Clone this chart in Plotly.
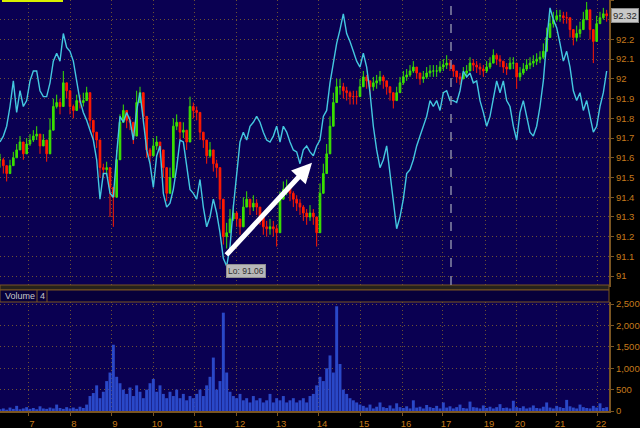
import plotly.graph_objects as go

# ---------------- data ----------------
close = [
    91.59, 91.56, 91.52, 91.56, 91.60, 91.64, 91.68, 91.62, 91.67, 91.69,
    91.71, 91.72, 91.66, 91.69, 91.62, 91.74, 91.86, 91.88, 91.86, 91.98,
    91.94, 91.86, 91.84, 91.89, 91.88, 91.89, 91.93, 91.79, 91.73, 91.69,
    91.55, 91.54, 91.55, 91.45, 91.40, 91.59, 91.78, 91.84, 91.79, 91.78,
    91.71, 91.88, 91.93, 91.81, 91.64, 91.61, 91.66, 91.68,
    91.64, 91.55, 91.42, 91.50, 91.76, 91.78, 91.73, 91.74, 91.68, 91.86,
    91.84, 91.83, 91.73, 91.69, 91.61, 91.64, 91.57, 91.55, 91.39, 91.20,
    91.22, 91.29, 91.32, 91.29, 91.25, 91.35, 91.39, 91.35, 91.37, 91.35,
    91.30, 91.25, 91.24, 91.25, 91.24, 91.22, 91.39, 91.44, 91.45, 91.42,
    91.39, 91.37,
    91.35, 91.32, 91.30, 91.32, 91.30, 91.22, 91.42, 91.52, 91.62, 91.76,
    91.88, 91.96, 91.96, 91.94, 91.93, 91.91, 91.91, 91.91, 91.96, 92.01,
    91.99, 91.96, 91.98, 91.99, 92.01, 91.99, 91.96, 91.93, 91.89, 91.93,
    91.98, 92.01, 92.02, 92.04, 92.06, 92.03, 92.00, 92.01, 92.03, 92.04,
    92.04, 92.04, 92.06, 92.07, 92.08,
    92.07, 92.04, 92.01, 92.00, 92.03, 92.04, 92.08, 92.07, 92.06, 92.05,
    92.04, 92.06, 92.08, 92.12, 92.10, 92.09, 92.06, 92.05, 92.08, 92.08,
    92.01, 92.03, 92.05, 92.07, 92.08, 92.09, 92.10, 92.11, 92.14, 92.21,
    92.28, 92.30, 92.32, 92.32, 92.31, 92.31, 92.25, 92.21, 92.23, 92.25,
    92.30, 92.35, 92.25, 92.19, 92.28, 92.31, 92.33, 92.32,
]
high = [
    91.62, 91.60, 91.56, 91.59, 91.63, 91.67, 91.71, 91.66, 91.70, 91.72,
    91.74, 91.76, 91.70, 91.72, 91.66, 91.80, 91.90, 91.92, 91.90, 92.04,
    91.98, 91.90, 91.87, 91.92, 91.92, 91.93, 91.96, 91.83, 91.76, 91.72,
    91.59, 91.57, 91.58, 91.49, 91.44, 91.64, 91.82, 91.87, 91.83, 91.81,
    91.75, 91.94, 91.96, 91.85, 91.67, 91.65, 91.70, 91.71,
    91.68, 91.59, 91.46, 91.55, 91.80, 91.82, 91.77, 91.78, 91.72, 91.91,
    91.88, 91.86, 91.77, 91.73, 91.65, 91.68, 91.61, 91.59, 91.44, 91.25,
    91.27, 91.34, 91.36, 91.33, 91.29, 91.40, 91.43, 91.39, 91.41, 91.39,
    91.34, 91.29, 91.28, 91.29, 91.28, 91.26, 91.43, 91.48, 91.49, 91.46,
    91.43, 91.41,
    91.39, 91.36, 91.34, 91.36, 91.34, 91.27, 91.47, 91.57, 91.67, 91.81,
    91.93, 92.00, 92.00, 91.98, 91.96, 91.94, 91.94, 91.94, 92.00, 92.04,
    92.02, 91.99, 92.01, 92.02, 92.04, 92.02, 91.99, 91.96, 91.92, 91.96,
    92.01, 92.04, 92.05, 92.07, 92.09, 92.06, 92.03, 92.04, 92.06, 92.07,
    92.07, 92.07, 92.09, 92.10, 92.12,
    92.10, 92.07, 92.04, 92.03, 92.06, 92.07, 92.11, 92.10, 92.09, 92.08,
    92.07, 92.09, 92.11, 92.15, 92.13, 92.12, 92.09, 92.08, 92.11, 92.11,
    92.04, 92.06, 92.08, 92.10, 92.11, 92.12, 92.13, 92.14, 92.18, 92.26,
    92.32, 92.34, 92.35, 92.35, 92.34, 92.34, 92.29, 92.25, 92.27, 92.29,
    92.34, 92.39, 92.30, 92.24, 92.32, 92.34, 92.36, 92.35,
]
low = [
    91.55, 91.52, 91.48, 91.53, 91.57, 91.60, 91.64, 91.59, 91.63, 91.66,
    91.68, 91.69, 91.62, 91.66, 91.58, 91.70, 91.82, 91.85, 91.82, 91.94,
    91.90, 91.82, 91.80, 91.85, 91.85, 91.86, 91.89, 91.75, 91.69, 91.65,
    91.50, 91.50, 91.51, 91.30, 91.25, 91.55, 91.74, 91.80, 91.75, 91.74,
    91.67, 91.84, 91.89, 91.77, 91.60, 91.57, 91.62, 91.64,
    91.60, 91.50, 91.38, 91.46, 91.72, 91.74, 91.69, 91.70, 91.64, 91.82,
    91.80, 91.79, 91.69, 91.65, 91.57, 91.60, 91.53, 91.50, 91.34, 91.16,
    91.14, 91.24, 91.28, 91.25, 91.21, 91.31, 91.35, 91.31, 91.33, 91.31,
    91.26, 91.21, 91.20, 91.21, 91.20, 91.15, 91.35, 91.40, 91.41, 91.38,
    91.35, 91.33,
    91.31, 91.28, 91.26, 91.28, 91.26, 91.15, 91.37, 91.47, 91.57, 91.71,
    91.83, 91.92, 91.92, 91.90, 91.89, 91.87, 91.87, 91.87, 91.92, 91.97,
    91.95, 91.92, 91.94, 91.95, 91.97, 91.95, 91.92, 91.89, 91.85, 91.89,
    91.94, 91.97, 91.99, 92.01, 92.03, 92.00, 91.97, 91.98, 92.00, 92.01,
    92.01, 92.01, 92.03, 92.04, 92.05,
    92.04, 92.01, 91.98, 91.97, 92.00, 92.01, 92.05, 92.04, 92.03, 92.02,
    92.01, 92.03, 92.05, 92.09, 92.07, 92.06, 92.03, 92.02, 92.05, 92.05,
    91.95, 91.99, 92.02, 92.04, 92.05, 92.06, 92.07, 92.08, 92.10, 92.16,
    92.24, 92.26, 92.29, 92.29, 92.28, 92.28, 92.21, 92.17, 92.19, 92.21,
    92.26, 92.30, 92.20, 92.08, 92.24, 92.28, 92.30, 92.29,
]
overlay = [
    91.68, 91.71, 91.76, 91.86, 91.99, 91.83, 91.94, 91.86, 91.89, 91.99,
    92.04, 92.04, 91.94, 91.91, 91.91, 91.98, 92.09, 92.13, 92.09, 92.23,
    92.16, 92.14, 92.09, 91.99, 91.89, 91.83, 91.79, 91.74, 91.69, 91.59,
    91.39, 91.52, 91.52, 91.42, 91.40, 91.62, 91.81, 91.78, 91.83, 91.79,
    91.69, 91.84, 91.93, 91.79, 91.64, 91.57, 91.45, 91.61,
    91.66, 91.42, 91.35, 91.37, 91.44, 91.55, 91.69, 91.68, 91.55, 91.44,
    91.42, 91.39, 91.49, 91.35, 91.25, 91.30, 91.39, 91.32, 91.22, 91.09,
    91.05, 91.15, 91.35, 91.52, 91.68, 91.73, 91.69, 91.76, 91.78, 91.81,
    91.78, 91.73, 91.69, 91.68, 91.71, 91.76, 91.68, 91.76, 91.73, 91.68,
    91.64, 91.63,
    91.57, 91.64, 91.66, 91.63, 91.61, 91.66, 91.69, 91.81, 91.84, 91.98,
    92.09, 92.18, 92.25, 92.33, 92.23, 92.19, 92.14, 92.09, 92.06, 92.13,
    92.06, 91.93, 91.76, 91.64, 91.55, 91.59, 91.66, 91.52, 91.39, 91.24,
    91.30, 91.39, 91.52, 91.54, 91.59, 91.66, 91.71, 91.76, 91.81, 91.89,
    91.86, 91.89, 91.84, 91.93, 91.94,
    91.89, 91.89, 91.88, 91.94, 92.04, 92.01, 92.03, 91.98, 91.99, 91.89,
    91.83, 91.76, 91.81, 91.91, 91.99, 91.93, 91.99, 91.89, 91.86, 91.76,
    91.69, 91.83, 91.89, 91.81, 91.73, 91.71, 91.76, 91.86, 91.99, 92.19,
    92.36, 92.30, 92.26, 92.18, 92.09, 92.14, 92.06, 91.94, 91.89, 91.93,
    91.84, 91.89, 91.81, 91.73, 91.76, 91.86, 91.93, 92.04,
]
volume = [
    40, 60, 30, 80, 50, 120, 40, 60, 90, 50, 70, 40, 110, 60, 50, 80, 60, 150,
    70, 50, 90, 60, 80, 50, 100, 70,
    150, 350, 420, 600, 300, 450, 700, 900, 1550, 800,
    650, 500, 400, 550, 350, 600, 450, 300, 500, 650,
    750, 450, 600, 400, 300, 450, 350, 500, 300, 400,
    250, 350, 300, 400, 500, 350, 600, 800, 1250, 500,
    700, 2300, 900, 450, 350, 300, 400, 250, 300, 200,
    350, 250, 300, 200, 250, 400, 200, 300, 250, 350,
    200, 250, 300, 200, 250, 300, 200, 350, 400, 600,
    800, 700, 1000, 1300, 900, 2450, 1100, 500, 400, 300,
    250, 200, 150,
    120, 80, 150, 60, 100, 200, 90, 70, 130, 60,
    180, 90, 70, 110, 60, 250, 80, 100, 60, 140,
    90, 70, 120, 60, 200, 80, 110, 60, 90, 150,
    70, 60, 220, 90, 80, 60, 130, 70, 100, 60,
    90, 160, 70, 80, 60, 240, 90, 70, 110, 60,
    80, 130, 70, 60, 100, 200, 80, 60, 120, 90,
    70, 260, 110, 80, 60, 150, 90, 70, 60, 120,
    80, 180, 70, 90,
]
hour_labels = ["7", "8", "9", "10", "11", "12", "13", "14", "15", "16",
               "17", "19", "20", "21", "22"]
hour_pos = [8.4, 21.0, 33.3, 45.9, 58.2, 70.8, 83.1, 95.4, 108.0, 120.6,
            132.6, 145.5, 154.8, 166.8, 179.1]
price_ticks = [91.0, 91.1, 91.2, 91.3, 91.4, 91.5, 91.6, 91.7, 91.8, 91.9,
               92.0, 92.1, 92.2, 92.3, 92.4]
price_labels = ["91", "91.1", "91.2", "91.3", "91.4", "91.5", "91.6", "91.7",
                "91.8", "91.9", "92", "92.1", "92.2", "92.3", "92.4"]
vol_ticks = [0, 500, 1000, 1500, 2000, 2500]
vol_labels = ["0", "500", "1,000", "1,500", "2,000", "2,500"]
last_price = 92.32
session_low = 91.06
session_break = 135.3      # bar index of the dashed session marker
arrow_from = (67.5, 91.10)  # annotation arrow (bar index, price)
arrow_to = (93.6, 91.575)

n = len(close)
assert len(high) == n and len(low) == n and len(overlay) == n and len(volume) == n, \
    (len(close), len(high), len(low), len(overlay), len(volume))
x = list(range(n))
opens = [close[0]] + close[:-1]

# ---------------- styling ----------------
BG = "#0a0052"
GRID = "#6e5234"
AXIS = "#7a5522"
TICK = "#c47a1c"
FONT = "Liberation Sans"
XD = [0, 609 / 640]

def py(px):
    return 1 - px / 428

fig = go.Figure()
fig.add_trace(go.Candlestick(
    x=x, open=opens, high=high, low=low, close=close,
    increasing=dict(line=dict(color="#3ae000", width=1), fillcolor="#3ae000"),
    decreasing=dict(line=dict(color="#ff1a00", width=1), fillcolor="#ff1a00"),
    whiskerwidth=0, xaxis="x", yaxis="y", hoverinfo="skip"))
fig.add_trace(go.Scatter(
    x=x, y=overlay, mode="lines", line=dict(color="#44c8e0", width=1.4),
    xaxis="x", yaxis="y", hoverinfo="skip"))
fig.add_trace(go.Bar(
    x=x, y=volume, marker=dict(color="#2a48c8", line=dict(width=0)),
    xaxis="x2", yaxis="y2", hoverinfo="skip"))

common_x = dict(range=[0, 182.7], tickvals=hour_pos, showgrid=True,
                gridcolor=GRID, griddash="1px,3px", gridwidth=1, zeroline=False,
                ticks="outside", ticklen=3, tickcolor=AXIS, automargin=False,
                showline=True, linecolor=AXIS, linewidth=1.5)
common_y = dict(side="right", showgrid=True, gridcolor=GRID, griddash="1px,3px",
                gridwidth=1, zeroline=False, ticks="outside", ticklen=3,
                tickcolor=AXIS, showline=True, linecolor=AXIS, linewidth=2,
                mirror=True, automargin=False,
                tickfont=dict(family=FONT, size=9.5, color=TICK))

fig.update_layout(
    width=640, height=428, margin=dict(l=0, r=0, t=0, b=0, autoexpand=False),
    paper_bgcolor="black", plot_bgcolor=BG, showlegend=False,
    hovermode=False, bargap=0.12,
    xaxis=dict(domain=XD, anchor="y", showticklabels=False,
               rangeslider=dict(visible=False), **common_x),
    yaxis=dict(domain=[py(285), 1], anchor="x", range=[90.955, 92.40],
               tickvals=price_ticks, ticktext=price_labels, **common_y),
    xaxis2=dict(domain=XD, anchor="y2", matches="x", ticktext=hour_labels,
                ticklabelshift=4,
                tickfont=dict(family=FONT, size=9.5, color=TICK), **common_x),
    yaxis2=dict(domain=[py(411), py(302)], anchor="x2", range=[0, 2550],
                tickvals=vol_ticks, ticktext=vol_labels, **common_y),
)

shapes = [
    # separator between panels
    dict(type="rect", xref="paper", yref="paper", x0=0, x1=XD[1],
         y0=py(290), y1=py(285), fillcolor="#26221c",
         line=dict(color=AXIS, width=1), layer="above"),
    # volume header strip
    dict(type="rect", xref="paper", yref="paper", x0=0, x1=XD[1],
         y0=py(302), y1=py(290), fillcolor="#07003a",
         line=dict(color=AXIS, width=1), layer="above"),
    dict(type="line", xref="paper", yref="paper", x0=37 / 640, x1=37 / 640,
         y0=py(302), y1=py(290), line=dict(color=AXIS, width=1)),
    dict(type="line", xref="paper", yref="paper", x0=47 / 640, x1=47 / 640,
         y0=py(302), y1=py(290), line=dict(color=AXIS, width=1)),
    # yellow legend stub top-left
    dict(type="rect", xref="paper", yref="paper", x0=2 / 640, x1=63 / 640,
         y0=py(2), y1=1, fillcolor="#d8f000", line=dict(width=0)),
    # dashed session marker
    dict(type="line", xref="x", yref="y domain", x0=session_break,
         x1=session_break, y0=0, y1=1,
         line=dict(color="#8888a8", width=1.5, dash="dash")),
]
fig.update_layout(shapes=shapes)

fig.add_annotation(x=arrow_to[0], y=arrow_to[1], ax=arrow_from[0],
                   ay=arrow_from[1], xref="x", yref="y", axref="x", ayref="y",
                   text="", showarrow=True, arrowhead=2, arrowsize=0.8,
                   arrowwidth=5, arrowcolor="white")
fig.add_annotation(x=67.8, y=session_low, xref="x", yref="y",
                   xanchor="left", yanchor="top",
                   text="Lo: %.2f" % session_low, showarrow=False,
                   bgcolor="#b8b8b8", bordercolor="#909090", borderpad=1,
                   font=dict(family=FONT, size=8.5, color="#303030"))
fig.add_annotation(x=611 / 640, y=last_price, xref="paper", yref="y",
                   xanchor="left", yanchor="middle",
                   text="%.2f" % last_price, showarrow=False,
                   bgcolor="#c8c8c8", bordercolor="#8a8a8a", borderpad=1,
                   font=dict(family=FONT, size=9.5, color="#2a2a2a"))
fig.add_annotation(x=3 / 640, y=py(296), xref="paper", yref="paper",
                   xanchor="left", yanchor="middle", text="Volume",
                   showarrow=False,
                   font=dict(family=FONT, size=9, color="#c8c8c8"))
fig.add_annotation(x=42 / 640, y=py(296), xref="paper", yref="paper",
                   xanchor="center", yanchor="middle", text="4",
                   showarrow=False,
                   font=dict(family=FONT, size=9, color="#c8c8c8"))

fig.write_html(
    "out.html",
    config={"displayModeBar": False, "staticPlot": True},
    post_script="document.body.style.margin='0';"
                "document.body.style.overflow='hidden';"
                "document.body.style.background='black';")
